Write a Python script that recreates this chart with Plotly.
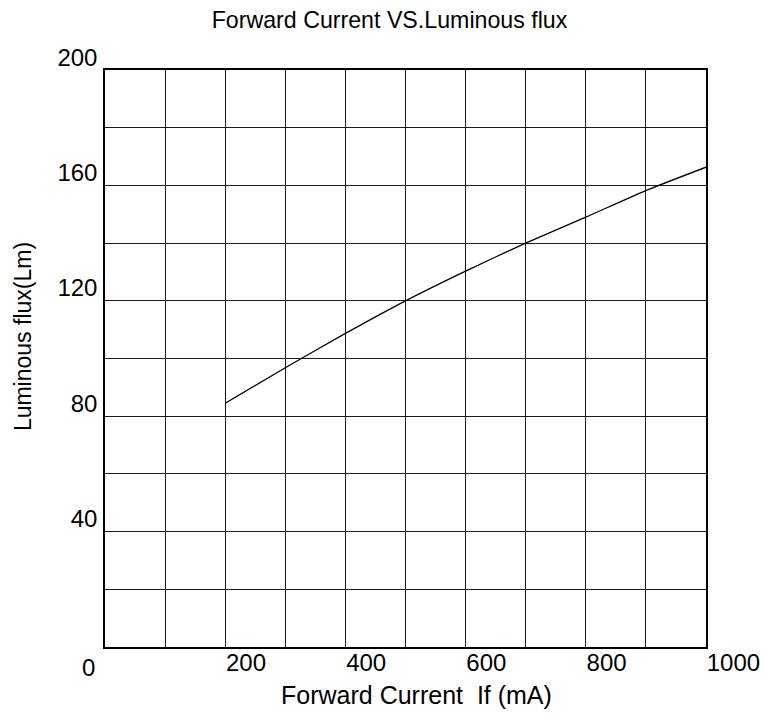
import plotly.graph_objects as go

# Data
current_ma = [200, 300, 400, 500, 600, 700, 800, 900, 1000]
flux_lm = [84.5, 96.8, 108.7, 120.0, 130.3, 140.0, 149.0, 158.2, 166.3]

x_ticks = [200, 400, 600, 800, 1000]
y_ticks = [40, 80, 120, 160, 200]

title_text = "Forward Current VS.Luminous flux"
x_title = "Forward Current\u00a0\u00a0If (mA)"
y_title = "Luminous flux(Lm)"

FONT = "Liberation Sans, Arial, sans-serif"
W, H = 765, 714
L, R, T, B = 105.3, 705.7, 70.0, 647.0

fig = go.Figure()
fig.add_trace(go.Scatter(
    x=current_ma, y=flux_lm, mode="lines",
    line=dict(color="black", width=1.3, shape="spline", smoothing=0.6),
    hoverinfo="x+y", showlegend=False,
))

grid = "#1a1a1a"
fig.update_xaxes(
    range=[0, 1000], tickvals=x_ticks, ticktext=[str(v) for v in x_ticks],
    ticks="", ticklen=0, ticklabelposition="outside right", ticklabelstandoff=-7,
    showgrid=True, gridcolor=grid, gridwidth=1.2,
    minor=dict(dtick=100, tick0=0, showgrid=True, gridcolor=grid, gridwidth=1.2),
    showline=True, linecolor="black", linewidth=1.5, mirror=True,
    zeroline=False, tickfont=dict(family=FONT, size=24, color="black"),
    fixedrange=True, automargin=False,
)
fig.update_yaxes(
    range=[0, 200], tickvals=y_ticks, ticktext=[str(v) for v in y_ticks],
    ticks="", ticklen=0, ticklabelposition="outside top", ticklabelstandoff=1,
    ticklabelshift=4,
    showgrid=True, gridcolor=grid, gridwidth=1.2,
    minor=dict(dtick=20, tick0=0, showgrid=True, gridcolor=grid, gridwidth=1.2),
    showline=True, linecolor="black", linewidth=1.5, mirror=True,
    zeroline=False, tickfont=dict(family=FONT, size=24, color="black"),
    fixedrange=True, automargin=False,
)

pw, ph = R - L, B - T

def px_x(p):
    return (p - L) / pw

def px_y(p):
    return (B - p) / ph

annotations = [
    dict(text="0", x=0, y=0, xref="x", yref="y", xanchor="right", yanchor="middle",
         xshift=-8, yshift=-20, showarrow=False,
         font=dict(family=FONT, size=24, color="black")),
    dict(text=x_title, x=px_x(416.7), y=px_y(695), xref="paper", yref="paper",
         xanchor="center", yanchor="middle", showarrow=False,
         font=dict(family=FONT, size=25, color="black")),
    dict(text=y_title, x=px_x(23), y=px_y(336.5), xref="paper", yref="paper",
         xanchor="center", yanchor="middle", textangle=-90, showarrow=False,
         font=dict(family=FONT, size=23, color="black")),
]

fig.update_layout(
    width=W, height=H,
    margin=dict(l=L, r=W - R, t=T, b=H - B, pad=0),
    paper_bgcolor="white", plot_bgcolor="white",
    title=dict(text=title_text, x=389.5 / W, xanchor="center", xref="container",
               y=1 - 20 / H, yanchor="middle", yref="container",
               font=dict(family=FONT, size=23.2, color="black")),
    annotations=annotations,
    showlegend=False,
)

fig.write_html(
    "out.html",
    config={"displayModeBar": False},
    post_script="document.body.style.margin='0';document.body.style.overflow='hidden';",
)
